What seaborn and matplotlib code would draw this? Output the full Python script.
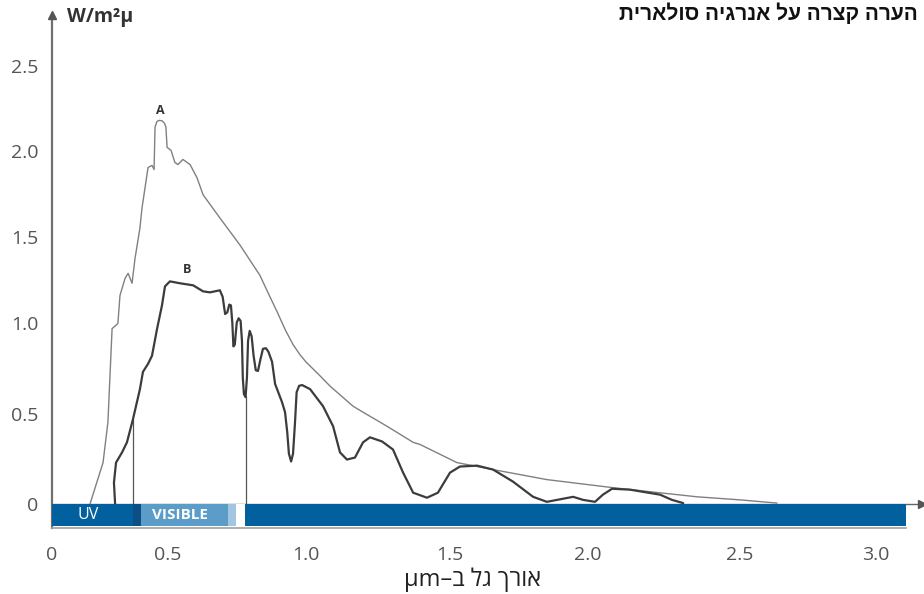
import re
import numpy as np
import matplotlib
matplotlib.use("Agg")
import matplotlib.pyplot as plt
import seaborn as sns

# ---------------- data ----------------
title_he = "הערה קצרה על אנרגיה סולארית"
xlabel_he = "אורך גל ב–μm"
ylabel = "W/m²μ"

x_tick_vals = [0, 0.5, 1.0, 1.5, 2.0, 2.5, 3.0]
x_tick_labels = ["0", "0.5", "1.0", "1.5", "2.0", "2.5", "3.0"]
y_tick_vals = [0, 0.5, 1.0, 1.5, 2.0, 2.5]
y_tick_labels = ["0", "0.5", "1.0", "1.5", "2.0", "2.5"]

# Curve A (outside atmosphere)
a_x = [0.164, 0.220, 0.241, 0.259, 0.284, 0.293, 0.315, 0.328, 0.345, 0.358,
       0.379, 0.388, 0.414, 0.431, 0.440, 0.444, 0.452, 0.461, 0.474, 0.485,
       0.491, 0.496, 0.511, 0.525, 0.536, 0.554, 0.580, 0.605, 0.627, 0.688,
       0.761, 0.833, 0.865, 0.895, 0.925, 0.953, 0.978, 1.000, 1.049, 1.083,
       1.163, 1.198, 1.281, 1.372, 1.396, 1.525, 1.656, 1.851, 2.082, 2.359,
       2.500, 2.636]
a_y = [0.000, 0.230, 0.455, 0.967, 0.995, 1.158, 1.258, 1.287, 1.229, 1.375,
       1.551, 1.669, 1.906, 1.918, 1.894, 2.142, 2.175, 2.182, 2.180, 2.165,
       2.142, 2.024, 2.006, 1.935, 1.923, 1.953, 1.923, 1.846, 1.746, 1.610,
       1.451, 1.275, 1.165, 1.064, 0.960, 0.880, 0.825, 0.785, 0.709, 0.654,
       0.544, 0.511, 0.433, 0.343, 0.331, 0.230, 0.191, 0.135, 0.090, 0.039,
       0.022, 0.004]

# Curve B (at sea level)
b_x = [0.272, 0.267, 0.276, 0.302, 0.323, 0.349, 0.379, 0.392, 0.414, 0.431,
       0.453, 0.474, 0.487, 0.507, 0.543, 0.591, 0.627, 0.652, 0.688, 0.698,
       0.707, 0.715, 0.722, 0.728, 0.733, 0.737, 0.742, 0.749, 0.756, 0.763,
       0.768, 0.771, 0.775, 0.781, 0.786, 0.790, 0.796, 0.803, 0.810, 0.818,
       0.826, 0.835, 0.844, 0.855, 0.864, 0.877, 0.888, 0.913, 0.924, 0.932,
       0.938, 0.946, 0.953, 0.960, 0.966, 0.975, 0.986, 1.014, 1.059, 1.094,
       1.118, 1.142, 1.170, 1.198, 1.222, 1.264, 1.302, 1.337, 1.372, 1.420,
       1.458, 1.500, 1.536, 1.598, 1.656, 1.728, 1.801, 1.851, 1.946, 1.982,
       2.023, 2.049, 2.079, 2.138, 2.237, 2.276, 2.313]
b_y = [0.000, 0.118, 0.230, 0.287, 0.343, 0.472, 0.637, 0.731, 0.775, 0.819,
       0.967, 1.100, 1.211, 1.240, 1.229, 1.217, 1.182, 1.176, 1.188, 1.150,
       1.050, 1.060, 1.105, 1.100, 1.000, 0.870, 0.880, 1.000, 1.025, 1.010,
       0.900, 0.700, 0.610, 0.593, 0.700, 0.900, 0.955, 0.925, 0.820, 0.740,
       0.736, 0.800, 0.857, 0.860, 0.840, 0.786, 0.665, 0.566, 0.511, 0.400,
       0.280, 0.236, 0.280, 0.450, 0.620, 0.655, 0.659, 0.637, 0.544, 0.433,
       0.287, 0.247, 0.258, 0.343, 0.371, 0.348, 0.303, 0.174, 0.062, 0.034,
       0.062, 0.174, 0.208, 0.213, 0.191, 0.124, 0.039, 0.011, 0.039, 0.022,
       0.011, 0.051, 0.084, 0.079, 0.051, 0.022, 0.004]

# Visible-range boundaries marked with vertical lines
boundary_x = [0.349, 0.781]

# Spectrum band beneath the axis: (start, end, colour)
band_start = [0.0, 0.349, 0.384, 0.717, 0.746, 0.779]
band_end = [0.349, 0.384, 0.717, 0.746, 0.779, 3.110]
band_color = ["#03609f", "#0b4f84", "#5b9cc8", "#a2c6e1", "#ffffff", "#03609f"]
band_labels = ["UV", "VISIBLE"]
band_label_x = [0.155, 0.543]

# ---------------- helpers ----------------
def visual_order(s):
    """Reorder an RTL (Hebrew) string into visual order for LTR rendering."""
    tokens = re.findall(r"[A-Za-zμµ0-9]+|[^A-Za-zμµ0-9]+", s)
    out = [t if re.match(r"[A-Za-zμµ0-9]", t) else t[::-1] for t in reversed(tokens)]
    return "".join(out)


def piecewise_scale(vals, pos):
    vals = np.asarray(vals, float)
    pos = np.asarray(pos, float)

    def f(v, a, b):
        v = np.asarray(v, float)
        out = np.interp(v, a, b)
        s0 = (b[1] - b[0]) / (a[1] - a[0])
        s1 = (b[-1] - b[-2]) / (a[-1] - a[-2])
        out = np.where(v < a[0], b[0] + (v - a[0]) * s0, out)
        out = np.where(v > a[-1], b[-1] + (v - a[-1]) * s1, out)
        return out

    return (lambda v: f(v, vals, pos)), (lambda p: f(p, pos, vals))


# ---------------- figure ----------------
sns.set_theme(style="white")
plt.rcParams["font.family"] = ["Open Sans", "DejaVu Sans"]

fig = plt.figure(figsize=(9.24, 5.94), dpi=100)
ax = fig.add_axes([52 / 924, 1 - 528 / 594, (922 - 52) / 924, (528 - 15) / 594])

# the hand-drawn reference axis is slightly non-uniform; follow its tick spacing
xf, xi = piecewise_scale(x_tick_vals, [52, 168, 306, 450, 588, 740, 876])
yf, yi = piecewise_scale(y_tick_vals, [-504, -415, -324, -238.7, -154, -69.3])
ax.set_xscale("function", functions=(xf, xi))
ax.set_yscale("function", functions=(yf, yi))

sns.lineplot(x=a_x, y=a_y, sort=False, estimator=None, color="#808080",
             linewidth=1.0, ax=ax, zorder=3)
sns.lineplot(x=b_x, y=b_y, sort=False, estimator=None, color="#3c3c3c",
             linewidth=1.6, ax=ax, zorder=4)

# vertical boundary lines from curve B down to the band
for bx in boundary_x:
    top = np.interp(bx, b_x[1:], b_y[1:])
    ax.plot([bx, bx], [0, top], color="#555555", linewidth=0.9, zorder=2)

# x axis line with arrow at y=0
ax.axhline(0, color="#666666", linewidth=1.0, zorder=1)
ax.plot([1.0], [0], marker=">", color="#555555", markersize=6,
        transform=ax.get_yaxis_transform(), clip_on=False, zorder=6)
ax.plot([0], [1.0], marker="^", color="#555555", markersize=6,
        transform=ax.transAxes, clip_on=False, zorder=6)

# spectrum band
band_bottom = -0.124
for s, e, c in zip(band_start, band_end, band_color):
    ax.fill_between([s, e], band_bottom, 0, color=c, linewidth=0, zorder=5)
ax.text(band_label_x[0], band_bottom / 2, band_labels[0], color="white",
        fontsize=11.5, ha="center", va="center", zorder=7)
ax.text(band_label_x[1], band_bottom / 2, band_labels[1], color="white",
        fontsize=11, fontweight="bold", ha="center", va="center", zorder=7)

# curve labels
ax.text(0.466, 2.20, "A", fontsize=9, fontweight="bold", color="#333333",
        ha="center", va="bottom")
ax.text(0.569, 1.27, "B", fontsize=9, fontweight="bold", color="#333333",
        ha="center", va="bottom")

ax.set_xlim(0, 3.169)
ax.set_ylim(-0.135, 2.80)
ax.set_xticks(x_tick_vals, x_tick_labels)
ax.set_yticks(y_tick_vals, y_tick_labels)
ax.tick_params(axis="both", which="both", direction="out", color="#777777",
               labelcolor="#555555", labelsize=14, width=1.0, length=7)
ax.tick_params(axis="x", pad=6)
ax.tick_params(axis="y", pad=3)
ax.minorticks_off()

for side in ["top", "right"]:
    ax.spines[side].set_visible(False)
ax.spines["left"].set_color("#6f6f6f")
ax.spines["left"].set_linewidth(1.6)
ax.spines["bottom"].set_color("#a0a0a0")
ax.spines["bottom"].set_linewidth(1.2)
ax.spines["bottom"].set_bounds(0, 3.11)
ax.grid(False)

# y-axis unit label
ax.text(0.065, 2.79, ylabel, fontsize=14, fontweight="bold", color="#333333",
        ha="left", va="center")

# title (top right) and x-axis label (bottom)
fig.text(0.9935, 0.996, visual_order(title_he), fontsize=15, fontweight="bold",
         color="#111111", ha="right", va="top",
         family=["Liberation Sans", "DejaVu Sans"])
fig.text(0.511, 0.0236, visual_order(xlabel_he), fontsize=17, color="#222222",
         ha="center", va="center", family=["Open Sans", "DejaVu Sans"])

fig.savefig("out.png", dpi=100)
